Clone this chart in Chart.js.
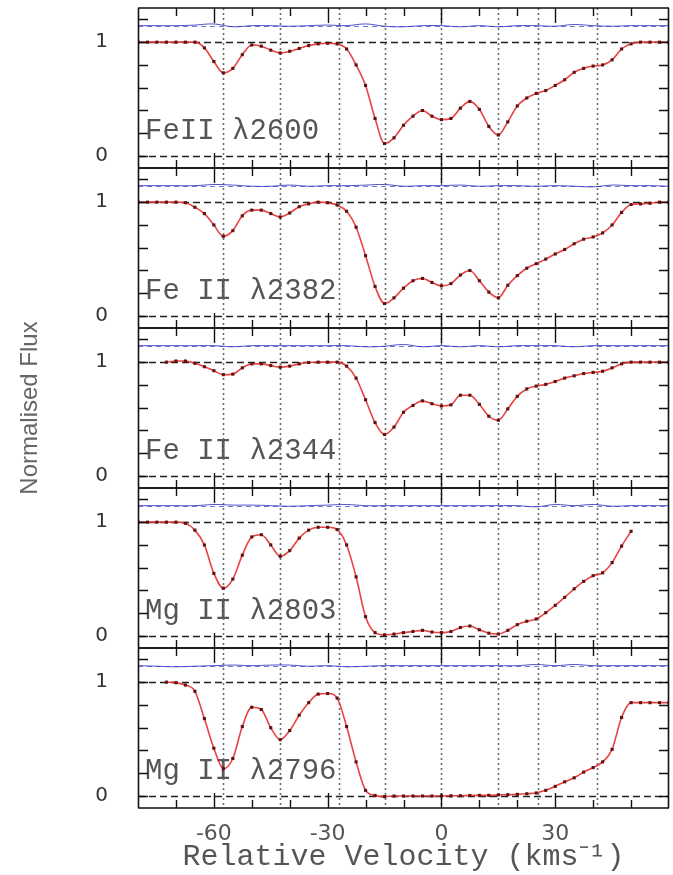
<!DOCTYPE html>
<html><head><meta charset="utf-8">
<script src="https://cdn.jsdelivr.net/npm/chart.js@4.4.1/dist/chart.umd.min.js"></script>
<style>
html,body{margin:0;padding:0;background:#fff;}
#wrap{position:relative;width:673px;height:875px;overflow:hidden;background:#fff;}
#wrap canvas{position:absolute;left:0;top:-50px;}
</style></head><body><div id="wrap">
<canvas id="p0" width="673" height="925"></canvas>
<canvas id="p1" width="673" height="925"></canvas>
<canvas id="p2" width="673" height="925"></canvas>
<canvas id="p3" width="673" height="925"></canvas>
<canvas id="p4" width="673" height="925"></canvas>
</div>
<script>
// ---- data ----
const velocity = [-80,-77.5,-75,-72.5,-70,-67.5,-65,-62.5,-60,-57.5,
  -55,-52.5,-50,-47.5,-45,-42.5,-40,-37.5,-35,-32.5,
  -30,-27.5,-25,-22.5,-20,-17.5,-15,-12.5,-10,-7.5,
  -5,-2.5,0,2.5,5,7.5,10,12.5,15,17.5,
  20,22.5,25,27.5,30,32.5,35,37.5,40,42.5,
  45,47.5,50,52.5,55,57.5,60];

const panelLabels = ['FeII \u03bb2600', 'Fe II \u03bb2382', 'Fe II \u03bb2344', 'Mg II \u03bb2803', 'Mg II \u03bb2796'];

const flux2600 = [1.0,1.0,1.0,1.0,1.0,1.0,1.0,0.95,0.83,0.73,
  0.77,0.89,0.975,0.965,0.93,0.905,0.92,0.945,0.97,0.985,
  0.99,0.985,0.94,0.80,0.62,0.33,0.11,0.16,0.27,0.35,
  0.40,0.35,0.32,0.33,0.42,0.48,0.41,0.26,0.185,0.30,
  0.44,0.51,0.55,0.575,0.62,0.67,0.735,0.77,0.79,0.80,
  0.845,0.94,0.985,1.0,1.0,1.0,1.0];
const flux2382 = [1.0,1.0,1.0,1.0,1.0,0.995,0.955,0.90,0.80,0.70,
  0.75,0.88,0.93,0.93,0.90,0.87,0.905,0.96,0.985,1.0,
  0.995,0.975,0.92,0.78,0.53,0.26,0.11,0.16,0.245,0.31,
  0.33,0.295,0.265,0.285,0.36,0.40,0.31,0.21,0.16,0.27,
  0.355,0.42,0.46,0.50,0.545,0.585,0.635,0.675,0.695,0.73,
  0.80,0.91,0.98,0.985,0.99,1.0,1.0];
const flux2344 = [null,null,null,1.0,1.01,1.01,0.99,0.96,0.925,0.89,
  0.895,0.95,0.985,0.985,0.97,0.956,0.965,0.985,0.997,1.0,
  1.0,1.0,0.965,0.86,0.67,0.47,0.365,0.43,0.56,0.62,
  0.66,0.635,0.615,0.625,0.71,0.71,0.63,0.525,0.49,0.59,
  0.70,0.765,0.79,0.805,0.83,0.86,0.88,0.90,0.91,0.92,
  0.95,0.985,1.0,1.0,1.0,1.0,1.0];
const flux2803 = [1.0,1.0,1.0,1.0,1.0,0.99,0.93,0.80,0.55,0.42,
  0.50,0.71,0.87,0.89,0.80,0.70,0.75,0.86,0.93,0.955,
  0.955,0.935,0.80,0.52,0.17,0.03,0.01,0.017,0.03,0.04,
  0.05,0.035,0.03,0.04,0.075,0.088,0.055,0.025,0.018,0.05,
  0.10,0.13,0.15,0.205,0.27,0.34,0.415,0.48,0.53,0.555,
  0.645,0.79,0.92,null,null,null,null];
const flux2796 = [null,null,null,1.0,0.995,0.975,0.92,0.68,0.42,0.24,
  0.33,0.61,0.78,0.76,0.60,0.495,0.575,0.71,0.82,0.895,
  0.90,0.86,0.61,0.30,0.05,0.005,-0.005,0.0,0.0,0.0,
  0.0,0.0,0.0,0.002,0.003,0.005,0.006,0.006,0.01,0.012,
  0.015,0.02,0.027,0.05,0.085,0.125,0.16,0.21,0.25,0.30,
  0.41,0.69,0.82,0.82,0.82,0.82,0.82];

// error spectra (offset above continuum)
const errVelocity = [-80,-75,-70,-65,-60,-55,-50,-45,-40,-35,
  -30,-25,-20,-15,-10,-5,0,5,10,15,
  20,25,30,35,40,45,50,55,60];
const err2600 = [1.145,1.145,1.145,1.15,1.16,1.135,1.145,1.145,1.14,1.145,
  1.15,1.145,1.16,1.14,1.135,1.145,1.145,1.135,1.145,1.135,
  1.145,1.145,1.14,1.155,1.145,1.14,1.145,1.145,1.145];
const err2382 = [1.145,1.145,1.145,1.145,1.155,1.15,1.14,1.14,1.15,1.14,
  1.145,1.145,1.15,1.155,1.14,1.145,1.145,1.15,1.14,1.145,
  1.145,1.14,1.145,1.14,1.135,1.15,1.145,1.145,1.14];
const err2344 = [1.145,1.145,1.145,1.145,1.145,1.135,1.145,1.145,1.145,1.145,
  1.145,1.145,1.135,1.14,1.155,1.135,1.145,1.135,1.145,1.135,
  1.145,1.145,1.145,1.135,1.145,1.145,1.145,1.145,1.145];
const err2803 = [1.145,1.145,1.145,1.145,1.155,1.15,1.15,1.145,1.14,1.145,
  1.15,1.155,1.145,1.145,1.145,1.145,1.145,1.145,1.145,1.145,
  1.145,1.135,1.155,1.145,1.155,1.14,1.145,1.145,1.145];
const err2796 = [1.145,1.14,1.135,1.14,1.145,1.15,1.145,1.15,1.15,1.14,
  1.145,1.135,1.14,1.145,1.145,1.145,1.145,1.145,1.145,1.145,
  1.145,1.155,1.145,1.155,1.145,1.145,1.145,1.145,1.145];

const componentVelocities = [-57.5, -42.5, -27, -15, 0, 15, 25.5, 41];
const refLevels = [0, 1];
const errBaseline = 1.145;
const labelLevel = 0.22;
const yTickMarks = [0, 0.2, 0.4, 0.6, 0.8, 1.0, 1.2];
const yLabelTicks = [0, 1];
const xMajorTicks = [-60, -30, 0, 30];
const xMinorTicks = [-70, -50, -40, -20, -10, 10, 20, 40, 50];
const xLabelTicks = [-60, -30, 0, 30];
const xTitle = 'Relative Velocity (kms\u207b\u00b9)';
const yTitle = 'Normalised Flux';

const fluxSets = [flux2600, flux2382, flux2344, flux2803, flux2796];
const errSets = [err2600, err2382, err2344, err2803, err2796];

// canvas geometry (canvas is shifted 50px above the page)
const CANVAS_H = 925, SHIFT = 50, PANEL_H = 160, FIRST_TOP = 8;

// ---- decoration plugin (uses the chart's own scales) ----
const panelDecor = {
  id: 'panelDecor',
  beforeDatasetsDraw(chart, args, opts) {
    const {ctx, chartArea: a, scales: {x, y}} = chart;
    ctx.save();
    ctx.font = '29px "Liberation Mono", monospace';
    ctx.fillStyle = '#555';
    ctx.textBaseline = 'middle';
    ctx.textAlign = 'left';
    ctx.fillText(opts.label, a.left + 7, y.getPixelForValue(labelLevel));
    ctx.strokeStyle = '#6a6a6a'; ctx.lineWidth = 1.6; ctx.setLineDash([2, 3]);
    componentVelocities.forEach(v => {
      const px = Math.round(x.getPixelForValue(v)) + 0.5;
      ctx.beginPath(); ctx.moveTo(px, a.top); ctx.lineTo(px, a.bottom); ctx.stroke();
    });
    ctx.strokeStyle = '#222'; ctx.lineWidth = 1.3; ctx.setLineDash([7, 4]);
    refLevels.forEach(l => {
      const py = Math.round(y.getPixelForValue(l)) + 0.5;
      ctx.beginPath(); ctx.moveTo(a.left, py); ctx.lineTo(a.right, py); ctx.stroke();
    });
    ctx.strokeStyle = 'rgba(60,60,200,0.7)'; ctx.lineWidth = 1; ctx.setLineDash([5, 4]);
    const pe = Math.round(y.getPixelForValue(errBaseline)) + 0.5;
    ctx.beginPath(); ctx.moveTo(a.left, pe); ctx.lineTo(a.right, pe); ctx.stroke();
    ctx.restore();
  },
  afterDatasetsDraw(chart) {
    const {ctx, chartArea: a, scales: {x, y}} = chart;
    ctx.save();
    ctx.setLineDash([]);
    ctx.strokeStyle = '#111';
    ctx.lineWidth = 1.4;
    const tick = (v, len) => {
      const px = Math.round(x.getPixelForValue(v)) + 0.5;
      ctx.beginPath();
      ctx.moveTo(px, a.top); ctx.lineTo(px, a.top + len);
      ctx.moveTo(px, a.bottom); ctx.lineTo(px, a.bottom - len);
      ctx.stroke();
    };
    xMajorTicks.forEach(v => tick(v, 15));
    xMinorTicks.forEach(v => tick(v, 8));
    yTickMarks.forEach(v => {
      const py = Math.round(y.getPixelForValue(v)) + 0.5;
      ctx.beginPath();
      ctx.moveTo(a.left, py); ctx.lineTo(a.left + 10, py);
      ctx.moveTo(a.right, py); ctx.lineTo(a.right - 10, py);
      ctx.stroke();
    });
    ctx.lineWidth = 1.6;
    ctx.beginPath();
    ctx.moveTo(a.left, a.top); ctx.lineTo(a.right, a.top);
    ctx.moveTo(a.left, a.bottom); ctx.lineTo(a.right, a.bottom);
    ctx.moveTo(a.left + 0.5, a.top); ctx.lineTo(a.left + 0.5, a.bottom);
    ctx.moveTo(a.right - 0.5, a.top); ctx.lineTo(a.right - 0.5, a.bottom);
    ctx.stroke();
    ctx.restore();
  }
};

function makePanel(i) {
  const isLast = i === 4;
  const isMid = i === 2;
  const flux = fluxSets[i];
  const err = errSets[i];
  const top = SHIFT + FIRST_TOP + PANEL_H * i;
  const bottom = top + PANEL_H;
  const xScale = {
    type: 'linear', min: -80, max: 60, display: isLast,
    grid: {display: false}, border: {display: false},
    ticks: {font: {family: 'DejaVu Sans', size: 22}, color: '#555', padding: 5, maxRotation: 0, autoSkip: false},
    title: {display: isLast, text: xTitle, font: {family: 'Liberation Mono', size: 30}, color: '#555', padding: {top: 0, bottom: 0}}
  };
  if (isLast) {
    xScale.afterBuildTicks = s => { s.ticks = xLabelTicks.map(v => ({value: v})); };
    xScale.afterFit = s => { s.height = CANVAS_H - bottom; };
  }
  return new Chart(document.getElementById('p' + i), {
    type: 'line',
    data: {
      datasets: [
        {
          label: 'error',
          data: errVelocity.map((v, k) => ({x: v, y: err[k]})),
          borderColor: 'rgba(50,50,190,0.85)', borderWidth: 1,
          pointRadius: 0, tension: 0.4, order: 2
        },
        {
          label: panelLabels[i],
          data: velocity.map((v, k) => ({x: v, y: flux[k]})),
          borderColor: 'rgba(232,45,45,0.9)', borderWidth: 1.6,
          pointRadius: 2.2, pointStyle: 'rect',
          pointBackgroundColor: '#5a1414', pointBorderWidth: 0,
          cubicInterpolationMode: 'monotone', spanGaps: false, order: 1
        }
      ]
    },
    options: {
      responsive: false, animation: false, devicePixelRatio: 1,
      events: [],
      layout: {padding: {top: top, bottom: isLast ? 0 : CANVAS_H - bottom, left: 0, right: 0}},
      plugins: {legend: {display: false}, tooltip: {enabled: false}, panelDecor: {label: panelLabels[i]}},
      scales: {
        x: xScale,
        y: {
          min: -0.105, max: 1.3,
          grid: {display: false}, border: {display: false},
          afterBuildTicks: s => { s.ticks = yLabelTicks.map(v => ({value: v})); },
          afterFit: s => { s.width = 138; },
          ticks: {font: {family: 'DejaVu Sans', size: 20}, color: '#333', padding: 22, autoSkip: false, callback: v => String(v)},
          title: {display: isMid, text: yTitle, font: {family: 'Liberation Sans', size: 24}, color: '#666', padding: {top: 16, bottom: 0}}
        }
      }
    },
    plugins: [panelDecor]
  });
}
for (let i = 0; i < 5; i++) makePanel(i);
</script>
</body></html>
